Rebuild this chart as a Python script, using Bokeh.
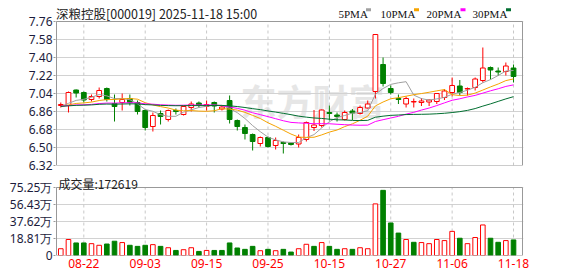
from bokeh.plotting import figure
from bokeh.layouts import column
from bokeh.models import Range1d, FixedTicker, ColumnDataSource, PrintfTickFormatter
from bokeh.core.properties import value
from bokeh.embed import file_html
from bokeh.resources import INLINE
import numpy as np

# ---------------- data ----------------
dates = ["08-19", "08-20", "08-21", "08-22", "08-25", "08-26", "08-27", "08-28", "08-29",
         "09-01", "09-02", "09-03", "09-04", "09-05", "09-08", "09-09", "09-10", "09-11",
         "09-12", "09-15", "09-16", "09-17", "09-18", "09-19", "09-22", "09-23", "09-24",
         "09-25", "09-26", "09-29", "09-30", "10-09", "10-10", "10-13", "10-14", "10-15",
         "10-16", "10-17", "10-20", "10-21", "10-22", "10-23", "10-24", "10-27", "10-28",
         "10-29", "10-30", "10-31", "11-03", "11-04", "11-05", "11-06", "11-07", "11-10",
         "11-11", "11-12", "11-13", "11-14", "11-17", "11-18"]

opens = [6.92, 6.92, 7.075, 7.05, 6.98, 7.01, 7.09, 6.94, 6.95, 6.99,
         6.95, 6.87, 6.71, 6.84, 6.78, 6.87, 6.83, 6.90, 6.945, 6.91,
         6.95, 6.885, 6.97, 6.77, 6.70, 6.63, 6.54, 6.60, 6.52, 6.55,
         6.545, 6.535, 6.58, 6.70, 6.72, 6.85, 6.825, 6.78, 6.865, 6.84,
         6.895, 7.06, 7.33, 7.09, 6.99, 6.935, 6.955, 6.95, 6.955, 6.96,
         7.00, 7.05, 7.115, 7.085, 7.10, 7.17, 7.30, 7.265, 7.26, 7.295]
highs = [6.95, 7.06, 7.08, 7.06, 7.03, 7.10, 7.10, 7.03, 7.04, 7.03,
         6.97, 6.88, 6.85, 6.87, 6.88, 6.89, 6.92, 6.96, 6.96, 6.97,
         6.96, 6.92, 7.02, 6.78, 6.73, 6.64, 6.61, 6.61, 6.60, 6.56,
         6.55, 6.63, 6.76, 6.875, 6.88, 6.92, 6.85, 6.87, 6.885, 6.92,
         6.97, 7.63, 7.40, 7.12, 7.03, 7.01, 6.99, 6.995, 6.98, 7.045,
         7.085, 7.20, 7.175, 7.10, 7.20, 7.50, 7.31, 7.30, 7.35, 7.33]
lows = [6.90, 6.85, 7.00, 6.95, 6.96, 6.99, 6.96, 6.76, 6.87, 6.92,
        6.83, 6.67, 6.66, 6.73, 6.76, 6.83, 6.82, 6.86, 6.90, 6.87,
        6.85, 6.87, 6.74, 6.67, 6.58, 6.47, 6.51, 6.50, 6.48, 6.44,
        6.52, 6.50, 6.56, 6.665, 6.70, 6.77, 6.76, 6.77, 6.775, 6.83,
        6.89, 6.99, 7.11, 7.03, 6.935, 6.90, 6.90, 6.915, 6.915, 6.935,
        6.975, 7.01, 7.02, 7.02, 7.07, 7.15, 7.18, 7.215, 7.22, 7.15]
closes = [6.93, 7.05, 7.045, 6.975, 7.01, 7.07, 6.98, 6.91, 6.98, 6.95,
          6.86, 6.70, 6.82, 6.81, 6.87, 6.86, 6.91, 6.935, 6.925, 6.93,
          6.915, 6.905, 6.78, 6.71, 6.64, 6.56, 6.60, 6.51, 6.57, 6.54,
          6.53, 6.60, 6.75, 6.725, 6.875, 6.84, 6.81, 6.85, 6.845, 6.90,
          6.935, 7.63, 7.14, 7.05, 6.98, 6.99, 6.96, 6.965, 6.975, 7.04,
          7.065, 7.12, 7.05, 7.09, 7.185, 7.295, 7.275, 7.255, 7.315, 7.21]
# volume in 万 (10k shares)
volumes = [7.5, 17.7, 13.9, 13.9, 13.1, 11.3, 12.7, 15.8, 14.3, 11.3,
           10.1, 11.3, 12.0, 10.1, 8.6, 5.6, 6.4, 8.6, 4.5, 5.6,
           5.6, 5.6, 13.9, 8.3, 6.8, 10.1, 5.3, 6.8, 5.3, 6.8,
           3.8, 7.5, 12.4, 10.1, 14.3, 10.1, 6.8, 7.5, 6.8, 8.6,
           7.5, 57.1, 72.1, 36.0, 24.8, 17.7, 14.6, 14.3, 13.1, 17.7,
           16.5, 26.7, 19.1, 13.1, 19.9, 33.8, 19.1, 14.6, 16.5, 17.2619]
# closes of the 29 sessions before 08-19 (estimated from where the MA lines start)
prior_closes = [6.88, 6.90, 6.93, 6.92, 6.89, 6.91, 6.94, 6.93, 6.90, 6.88,
                6.91, 6.92, 6.95, 6.93, 6.90, 6.89, 6.91, 6.93, 6.92, 6.90,
                6.88, 6.90, 6.92, 6.93, 6.91, 6.89, 6.90, 6.92, 6.91]

price_ticks = [6.32, 6.50, 6.68, 6.86, 7.04, 7.22, 7.40, 7.58, 7.76]
vol_ticks = [0, 18.81, 37.62, 56.43, 75.25]
date_tick_labels = ["08-22", "09-03", "09-15", "09-25", "10-15", "10-27", "11-06", "11-18"]
ma_periods = [5, 10, 20, 30]
ma_names = ["5PMA", "10PMA", "20PMA", "30PMA"]
last_volume_text = "成交量:172619"
title_text = "深粮控股[000019] 2025-11-18 15:00"
watermark_text = "东方财富"

# ---------------- styles / geometry ----------------
RED = "#ff0000"
GREEN = "#008000"
MA_COLORS = ["#a0a0a0", "#f5a300", "#ff00ff", "#006e30"]
BORDER = "#999999"
GRID = "#d2d2d2"
VGRID = "#c8c8c8"
LABEL_COLOR = "#1c1c3c"
W = 578
BL, BR = -0.56, 60.17          # left / right panel border, in candle-slot units
PAGE_L, PAGE_R = 56, 522       # page x of those borders
PXU = (PAGE_R - PAGE_L) / (BR - BL)
PAD = 1 / PXU                  # one pixel of frame beyond each border
P_TOP, P_BOT = 21, 165         # page y of price panel top / bottom
P_FIG_H = 173
V_TOP, V_BOT = 187, 255        # page y of volume panel top / bottom
V_FIG_H = 276 - P_FIG_H

pmin, pmax = price_ticks[0], price_ticks[-1]
p_per_px = (pmax - pmin) / (P_BOT - P_TOP)
vmax = vol_ticks[-1]
v_per_px = vmax / (V_BOT - V_TOP)


def px(x_page):
    return BL + (x_page - PAGE_L) / PXU


def py(y_page):
    return pmin + (P_BOT - y_page) * p_per_px


def vy(y_page):
    return (V_BOT - y_page) * v_per_px


n = len(dates)
idx = np.arange(n)
o = np.array(opens); h = np.array(highs); l = np.array(lows); c = np.array(closes)
up = c >= o
prev = np.concatenate([[c[0] - 1], c[:-1]])
vol_up = c >= prev

tick_pos = [dates.index(d) for d in date_tick_labels]
tick_map = {p_: d for p_, d in zip(tick_pos, date_tick_labels)}

allc = np.array(prior_closes + closes)
off = len(prior_closes)
mas = []
for per in ma_periods:
    mas.append([allc[off + i - per + 1: off + i + 1].mean() for i in range(n)])

x_range = Range1d(BL - PAD, BR + PAD)


def style_yaxis(ax):
    ax.axis_line_color = None
    ax.major_tick_line_color = BORDER
    ax.major_tick_out = 2
    ax.major_tick_in = 0
    ax.minor_tick_line_color = None
    ax.major_label_standoff = 1
    ax.major_label_text_font = "Noto Sans"
    ax.major_label_text_font_size = "12px"
    ax.major_label_text_color = LABEL_COLOR


# ---------------- price panel (frame reaches the page top to hold the header) ----------------
p = figure(width=W, height=P_FIG_H, x_range=x_range,
           y_range=Range1d(pmin, pmax + P_TOP * p_per_px),
           output_backend="svg", toolbar_location=None, tools="",
           x_axis_location=None, min_border_left=PAGE_L - 1, min_border_right=W - PAGE_R - 1,
           min_border_top=0, min_border_bottom=P_FIG_H - P_BOT)
p.title.visible = False
p.outline_line_color = None
p.xgrid.visible = False
p.yaxis.ticker = FixedTicker(ticks=price_ticks)
p.yaxis.formatter = PrintfTickFormatter(format="%.2f")
style_yaxis(p.yaxis)
p.ygrid.grid_line_color = GRID

# watermark
p.text(x=[px(240)], y=[py(99)], text=[watermark_text], text_font=value("Noto Sans CJK SC"),
       text_font_size="36px", text_font_style="bold", text_color="#e6e6e6",
       text_baseline="alphabetic", level="underlay")
# dashed date grid lines, limited to the panel
p.segment(x0=tick_pos, y0=[pmin] * len(tick_pos), x1=tick_pos, y1=[pmax] * len(tick_pos),
          line_color=VGRID, line_dash="3 3", line_width=1)

src = ColumnDataSource(dict(x=idx, o=o, h=h, l=l, c=c,
                            top=np.maximum(o, c), bot=np.minimum(o, c),
                            col=[RED if u else GREEN for u in up],
                            fill=["white" if u else GREEN for u in up]))
p.segment(x0="x", y0="l", x1="x", y1="h", color="col", line_width=1, source=src)
p.vbar(x="x", top="top", bottom="bot", width=0.62, fill_color="fill",
       line_color="col", line_width=1, source=src)

for ma, col in zip(mas, MA_COLORS):
    p.line(idx, ma, color=col, line_width=1)

# panel border
p.quad(left=[BL], right=[BR], bottom=[pmin], top=[pmax], fill_color=None,
       line_color=BORDER, line_width=1)

# header: title and MA legend
p.text(x=[px(55.5)], y=[py(13)], text=[title_text], text_font=value("Noto Sans CJK SC"),
       text_font_size="12.5px", text_color="#222222", text_baseline="alphabetic")
leg_px = [338, 380, 426, 472]
sq_px = [368, 416, 462.5, 508]
p.text(x=[px(v_) for v_ in leg_px], y=[py(13)] * 4, text=ma_names,
       text_font=value("Liberation Serif"), text_font_size="11px", text_color="#111111",
       text_baseline="alphabetic")
p.rect(x=[px(v_) for v_ in sq_px], y=[py(9.3)] * 4, width=5, height=3,
       width_units="screen", height_units="screen", fill_color=MA_COLORS, line_color=None)

# ---------------- volume panel ----------------
v = figure(width=W, height=V_FIG_H, x_range=x_range,
           y_range=Range1d(0, vy(P_FIG_H)),
           output_backend="svg", toolbar_location=None, tools="",
           min_border_left=PAGE_L - 1, min_border_right=W - PAGE_R - 1,
           min_border_top=0, min_border_bottom=276 - V_BOT)
v.title.visible = False
v.outline_line_color = None
v.xgrid.visible = False
v.yaxis.ticker = FixedTicker(ticks=vol_ticks)
v.yaxis.formatter = PrintfTickFormatter(format="%.2f万")
v.yaxis.major_label_overrides = {0: "0"}
style_yaxis(v.yaxis)
v.ygrid.grid_line_color = GRID
v.xaxis.ticker = FixedTicker(ticks=tick_pos)
v.xaxis.major_label_overrides = tick_map
v.xaxis.axis_line_color = None
v.xaxis.major_tick_line_color = None
v.xaxis.major_tick_out = 0
v.xaxis.major_tick_in = 0
v.xaxis.minor_tick_line_color = None
v.xaxis.major_label_standoff = 3
v.xaxis.major_label_text_font = "Noto Sans"
v.xaxis.major_label_text_font_size = "12px"
v.xaxis.major_label_text_color = RED

v.segment(x0=tick_pos, y0=[0] * len(tick_pos), x1=tick_pos, y1=[vmax] * len(tick_pos),
          line_color=VGRID, line_dash="3 3", line_width=1)
vsrc = ColumnDataSource(dict(x=idx, vol=volumes,
                             col=[RED if u else GREEN for u in vol_up],
                             fill=["white" if u else GREEN for u in vol_up]))
v.vbar(x="x", top="vol", bottom=0, width=0.6, fill_color="fill", line_color="col",
       line_width=1, source=vsrc)
v.quad(left=[BL], right=[BR], bottom=[0], top=[vmax], fill_color=None,
       line_color=BORDER, line_width=1)
v.text(x=[px(58)], y=[vy(183)], text=[last_volume_text], text_font=value("Noto Sans CJK SC"),
       text_font_size="12px", text_color="#222222", text_baseline="alphabetic")

layout = column(p, v, spacing=0)
open("out.html", "w").write(file_html(layout, INLINE))
